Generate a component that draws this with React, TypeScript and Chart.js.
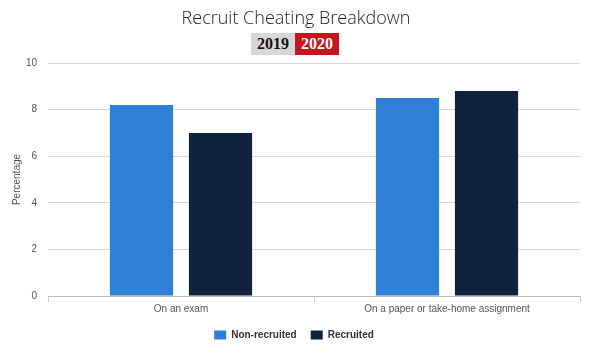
import React, { useEffect, useRef } from "react";
import { Chart, registerables } from "chart.js";

Chart.register(...registerables);

const categories = ["On an exam", "On a paper or take-home assignment"];
const nonRecruited = [8.2, 8.5];
const recruited = [7.0, 8.8];
const seriesNames = ["Non-recruited", "Recruited"];
const yTicks = [0, 2, 4, 6, 8, 10];
const titleText = "Recruit Cheating Breakdown";
const years = ["2019", "2020"];

export default function App() {
  const ref = useRef<HTMLCanvasElement | null>(null);
  useEffect(() => {
    document.body.style.margin = "0";
    const ctx = ref.current!;
    const chart = new Chart(ctx, {
      type: "bar",
      data: {
        labels: categories,
        datasets: [
          { label: seriesNames[0], data: nonRecruited, backgroundColor: "#2f7fd6" },
          { label: seriesNames[1], data: recruited, backgroundColor: "#0f233f" },
        ],
      },
      options: {
        animation: false,
        responsive: false,
        maintainAspectRatio: false,
        layout: { padding: { top: 63, right: 20, left: 8, bottom: 1 } },
        datasets: { bar: { categoryPercentage: 0.594, barPercentage: 0.8 } },
        plugins: {
          legend: {
            position: "bottom",
            labels: {
              boxWidth: 12,
              boxHeight: 9,
              padding: 14,
              color: "#333",
              font: { family: "Liberation Sans, Arial, sans-serif", size: 10, weight: "bold" },
            },
          },
          tooltip: { enabled: false },
        },
        scales: {
          x: {
            offset: true,
            grid: { display: true, drawOnChartArea: false, offset: true, tickLength: 6, color: "#cccccc" },
            border: { display: true, color: "#bbbbbb" },
            ticks: { color: "#555", padding: 1, font: { family: "Liberation Sans, Arial, sans-serif", size: 10 } },
          },
          y: {
            min: 0,
            max: 10,
            afterBuildTicks: (axis: any) => {
              axis.ticks = yTicks.map((v) => ({ value: v }));
            },
            afterFit: (axis: any) => {
              axis.width = 40;
            },
            grid: { color: "#d9d9d9", drawTicks: false },
            border: { display: false },
            ticks: { color: "#555", padding: 11, font: { family: "Liberation Sans, Arial, sans-serif", size: 10 } },
            title: {
              display: true,
              text: "Percentage",
              color: "#555",
              padding: 3,
              font: { family: "Liberation Sans, Arial, sans-serif", size: 10 },
            },
          },
        },
      },
    });
    return () => chart.destroy();
  }, []);

  return (
    <div style={{ position: "absolute", left: 0, top: 0, width: 600, height: 351, background: "#fff", overflow: "hidden" }}>
      <canvas ref={ref} width={600} height={351} style={{ position: "absolute", left: 0, top: 0, width: 600, height: 351 }} />
      <div
        style={{
          position: "absolute",
          left: 0,
          top: 3,
          width: 592,
          textAlign: "center",
          fontFamily: "'Open Sans', sans-serif",
          fontWeight: 300,
          fontSize: 18,
          color: "#222",
          lineHeight: "28px",
        }}
      >
        {titleText}
      </div>
      <div
        style={{
          position: "absolute",
          left: 251,
          top: 33,
          height: 22,
          display: "flex",
          fontFamily: "'Liberation Serif', 'DejaVu Serif', serif",
          fontWeight: "bold",
          fontSize: 16,
          lineHeight: "22px",
        }}
      >
        <span style={{ background: "#d6d6d6", color: "#111", padding: "0 6px" }}>{years[0]}</span>
        <span style={{ background: "#c4161c", color: "#fff", padding: "0 6px" }}>{years[1]}</span>
      </div>
    </div>
  );
}
